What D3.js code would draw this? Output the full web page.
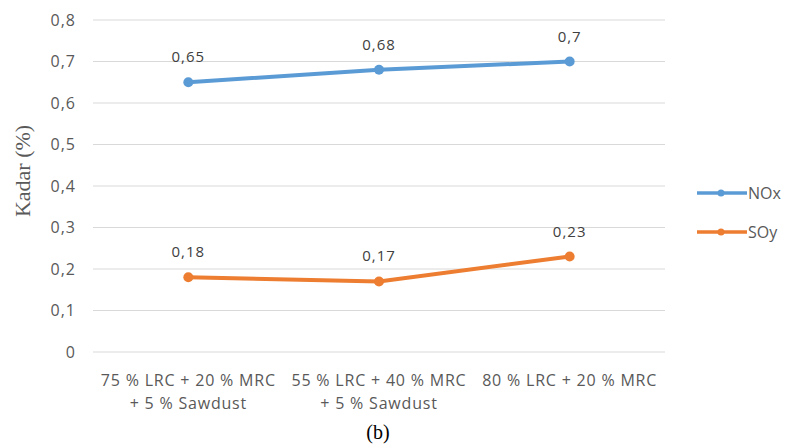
<!DOCTYPE html>
<html>
<head>
<meta charset="utf-8">
<script src="https://cdn.jsdelivr.net/npm/d3@7"></script>
<style>
  body { margin: 0; background: #fff; }
  text { font-family: "Open Sans", sans-serif; }
</style>
</head>
<body>
<div id="plot"></div>
<script>
// chart data
var categories = [
  ["75 % LRC + 20 % MRC", "+ 5 % Sawdust"],
  ["55 % LRC + 40 % MRC", "+ 5 % Sawdust"],
  ["80 % LRC + 20 % MRC"]
];
var seriesNames = ["NOx", "SOy"];
var noxValues = [0.65, 0.68, 0.7];
var soyValues = [0.18, 0.17, 0.23];
var yTicks = [0, 0.1, 0.2, 0.3, 0.4, 0.5, 0.6, 0.7, 0.8];
var colors = ["#5b9bd5", "#ed7d31"];

var width = 788, height = 448;
var plotLeft = 93, plotRight = 665, plotTop = 20, plotBottom = 352;

var svg = d3.select("#plot").append("svg")
  .attr("width", width)
  .attr("height", height);

var x = d3.scaleBand().domain(d3.range(categories.length)).range([plotLeft, plotRight]);
var y = d3.scaleLinear().domain([0, 0.8]).range([plotBottom, plotTop]);
var fmt = function (v) { return String(+v.toFixed(2)).replace(".", ","); };
var cx = function (d, i) { return x(i) + x.bandwidth() / 2; };

// gridlines
svg.append("g").selectAll("line")
  .data(yTicks)
  .join("line")
  .attr("x1", plotLeft).attr("x2", plotRight)
  .attr("y1", function (d) { return y(d); })
  .attr("y2", function (d) { return y(d); })
  .attr("stroke", "#d9d9d9")
  .attr("stroke-width", 1);

// y axis labels
var yAxis = svg.append("g")
  .attr("transform", "translate(" + (plotLeft - 17) + ",0)")
  .call(d3.axisLeft(y).tickValues(yTicks).tickFormat(fmt).tickSize(0).tickPadding(0));
yAxis.select(".domain").remove();
yAxis.selectAll("text")
  .attr("fill", "#595959")
  .style("font-size", "16px")
  .style("letter-spacing", "1px")
  .style("font-family", "Open Sans, sans-serif");

// x labels (two lines)
var xl = svg.append("g").selectAll("text")
  .data(categories)
  .join("text")
  .attr("x", cx)
  .attr("y", plotBottom + 34)
  .attr("text-anchor", "middle")
  .attr("fill", "#595959")
  .style("font-size", "16px")
  .style("letter-spacing", "0.8px");
xl.selectAll("tspan")
  .data(function (d) { return d; })
  .join("tspan")
  .attr("x", function () { return d3.select(this.parentNode).attr("x"); })
  .attr("dy", function (d, i) { return i === 0 ? 0 : 23; })
  .text(function (d) { return d; });

// y title
svg.append("text")
  .attr("transform", "translate(30," + 171 + ") rotate(-90)")
  .attr("text-anchor", "middle")
  .attr("fill", "#595959")
  .style("font-family", "Liberation Serif, serif")
  .style("font-size", "22px")
  .text("Kadar (%)");

// lines
var line = d3.line()
  .x(cx)
  .y(function (d) { return y(d); });

[noxValues, soyValues].forEach(function (vals, s) {
  var g = svg.append("g");
  g.append("path")
    .datum(vals)
    .attr("d", line)
    .attr("fill", "none")
    .attr("stroke", colors[s])
    .attr("stroke-width", 4);
  g.selectAll("circle")
    .data(vals)
    .join("circle")
    .attr("cx", cx)
    .attr("cy", function (d) { return y(d); })
    .attr("r", 5)
    .attr("fill", colors[s]);
  g.selectAll("text")
    .data(vals)
    .join("text")
    .attr("x", cx)
    .attr("y", function (d) { return y(d) - 20; })
    .attr("text-anchor", "middle")
    .attr("fill", "#404040")
    .style("font-size", "15px")
    .style("letter-spacing", "1px")
    .text(fmt);
});

// legend
var legend = svg.append("g").selectAll("g")
  .data(seriesNames)
  .join("g")
  .attr("transform", function (d, i) { return "translate(697," + (193 + i * 39) + ")"; });
legend.append("line")
  .attr("x1", 0).attr("x2", 50)
  .attr("stroke", function (d, i) { return colors[i]; })
  .attr("stroke-width", 3.5);
legend.append("circle")
  .attr("cx", 24).attr("r", 3.5)
  .attr("fill", function (d, i) { return colors[i]; });
legend.append("text")
  .attr("x", 51).attr("dy", "0.35em")
  .attr("fill", "#595959")
  .style("font-size", "16px")
  .text(function (d) { return d; });

// caption
svg.append("text")
  .attr("x", 378).attr("y", 439)
  .attr("text-anchor", "middle")
  .attr("fill", "#000")
  .style("font-family", "Liberation Serif, serif")
  .style("font-size", "20px")
  .text("(b)");
</script>
</body>
</html>
